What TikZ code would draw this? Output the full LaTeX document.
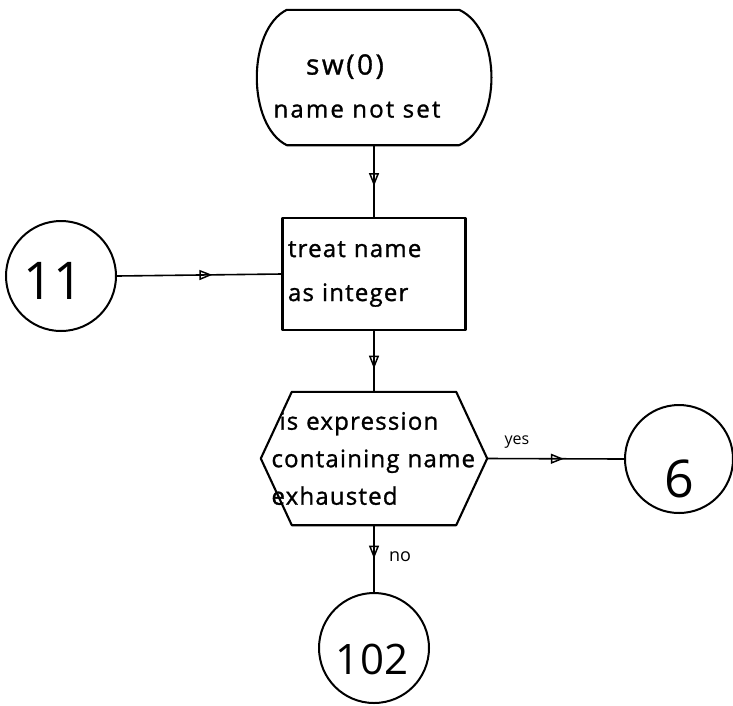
\documentclass[tikz,border=0pt]{standalone}
\usepackage{fontspec}
\setmainfont{Open Sans}
\newfontfamily\handfont[LetterSpace=5,FakeBold=1.2]{Open Sans}
\newfontfamily\widehandfont[LetterSpace=9,FakeBold=1.2]{Open Sans}
\usetikzlibrary{arrows.meta,decorations.markings,calc}
\begin{document}
\begin{tikzpicture}[x=1pt,y=-1pt,
  outline/.style={draw, line width=2.1pt, line join=round},
  flow/.style={draw, line width=1.6pt, postaction={decorate},
    decoration={markings, mark=at position #1 with
      {\arrow{Triangle[open,length=13pt,width=10pt,line width=1.5pt]}}}},
  flow/.default=0.55,
  hand/.style={font=\handfont\fontsize{24}{#1}\selectfont, inner sep=0pt},
  hand/.default=44,
  connector/.style={circle, draw, line width=2pt, minimum size=#1, inner sep=0pt},
  connector/.default=108pt,
  num/.style={font=\fontsize{#1}{#1}\selectfont, inner sep=0pt},
  ]
\useasboundingbox (0,0) rectangle (733,705);

% start terminal: flat top and bottom, bulging sides
\node[minimum width=234pt, minimum height=135pt, inner sep=0pt] (term) at (374,77.5) {};
\draw[outline] ($(term.north west)+(30,0)$) -- ($(term.north east)+(-32,0)$)
  .. controls ($(term.north east)+(11,20)$) and ($(term.south east)+(11,-20)$) .. ($(term.south east)+(-32,0)$)
  -- ($(term.south west)+(30,0)$)
  .. controls ($(term.south west)+(-10,-20)$) and ($(term.north west)+(-10,20)$) .. cycle;
\node[inner sep=0pt, align=center, font=\widehandfont\fontsize{24}{43}\selectfont] (termtext) at (357,86)
  {{\fontsize{28}{43}\selectfont sw(0)}\hspace*{24pt}\\name not set};

% process box
\node[outline, minimum width=183pt, minimum height=112pt, inner sep=0pt,
      hand, text width=172pt, align=left] (rect) at (374,274) {treat name\\as integer};

% decision hexagon
\node[minimum width=226pt, minimum height=133pt, inner sep=0pt,
      hand=37.5, text width=205pt, align=left] (hex) at (374,458.5)
      {\hspace*{8pt}is expression\\containing name\\exhausted};
\draw[outline] (hex.west) -- ($(hex.north west)+(31,0)$) -- ($(hex.north east)+(-31,0)$)
  -- (hex.east) -- ($(hex.south east)+(-31,0)$) -- ($(hex.south west)+(31,0)$) -- cycle;

% off-page connectors
\node[connector=110pt] (c11) at (61,276) {};
\node[num=52] (n11) at (53,281) {11};
\node[connector=108pt] (c6) at (679,459) {};
\node[num=52] (n6) at (679,479) {6};
\node[connector=110pt] (c102) at (374,648) {};
\node[num=42] (n102) at (372,659) {102};

% flow lines
\draw[flow=0.57] (term.south) -- (rect.north);
\draw[flow=0.62] (rect.south) -- (hex.north);
\draw[flow=0.58] (c11.east) -- (rect.west);
\draw[flow=0.56] (hex.east) -- (c6.west);
\draw[flow=0.5] (hex.south) -- (c102.north);

% branch labels
\node[num=16] (yes) at (517,442) {yes};
\node[num=18] (no) at (400,557) {no};
\end{tikzpicture}
\end{document}
